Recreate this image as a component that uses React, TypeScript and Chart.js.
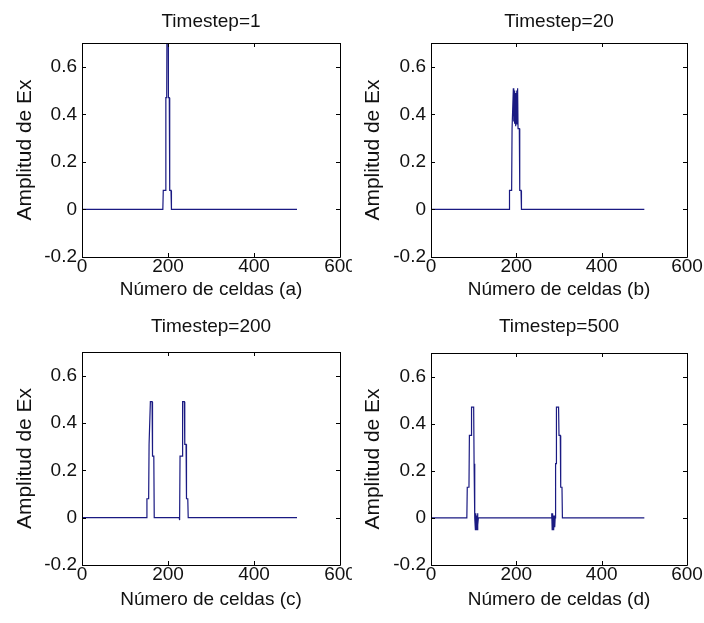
import React, { useEffect, useRef } from "react";
import { Chart, registerables } from "chart.js";
Chart.register(...registerables);

// ---- data ----
const xTicks = [0, 200, 400, 600];
const yTicks = [-0.2, 0, 0.2, 0.4, 0.6];
const yTickLabels = ["-0.2", "0", "0.2", "0.4", "0.6"];
const titles = ["Timestep=1", "Timestep=20", "Timestep=200", "Timestep=500"];
const xAxisTitles = [
  "Número de celdas (a)",
  "Número de celdas (b)",
  "Número de celdas (c)",
  "Número de celdas (d)",
];
const yAxisTitle = "Amplitud de Ex";

// Timestep = 1
const cellsA = [0, 188, 189, 194, 195, 197, 198, 200, 201, 203, 204, 207, 208, 500];
const ampA = [0, 0, 0.08, 0.08, 0.47, 0.47, 1.0, 1.0, 0.47, 0.47, 0.08, 0.08, 0, 0];

// Timestep = 20
const cellsB = [0, 183, 184, 189, 190, 192, 193, 194, 195, 196, 197, 198, 199, 200, 201, 202, 203, 204, 207, 208, 211, 212, 500];
const ampB = [0, 0, 0.08, 0.08, 0.34, 0.34, 0.51, 0.37, 0.5, 0.36, 0.49, 0.35, 0.49, 0.36, 0.5, 0.37, 0.51, 0.34, 0.34, 0.08, 0.08, 0, 0];

// Timestep = 200
const cellsC = [0, 150, 151, 155, 156, 158, 159, 163, 164, 167, 168, 226, 227, 228, 233, 234, 238, 239, 242, 243, 246, 247, 500];
const ampC = [0, 0, 0.08, 0.08, 0.31, 0.31, 0.49, 0.49, 0.26, 0.26, 0, 0, -0.01, 0.26, 0.26, 0.49, 0.49, 0.31, 0.31, 0.08, 0.08, 0, 0];

// Timestep = 500
const cellsD = [0, 84, 85, 89, 90, 94, 95, 100, 101, 102, 103, 104, 105, 106, 107, 108, 109, 110, 111, 282, 283, 284, 285, 286, 287, 288, 289, 290, 291, 292, 293, 294, 299, 300, 303, 304, 307, 308, 500];
const ampD = [0, 0, 0.13, 0.13, 0.35, 0.35, 0.47, 0.47, 0.23, 0.23, 0, -0.05, 0.02, -0.05, 0.01, -0.05, 0.02, -0.03, 0, 0, 0.02, -0.05, 0.02, -0.05, 0.01, -0.05, 0.01, -0.04, 0, 0.23, 0.23, 0.47, 0.47, 0.35, 0.35, 0.13, 0.13, 0, 0];

const seriesCells = [cellsA, cellsB, cellsC, cellsD];
const seriesAmp = [ampA, ampB, ampC, ampD];

// ---- layout (positions only) ----
const PANELS = [
  { x0: 0, y0: 0, w: 352, h: 311, L: 82, R: 340, T: 43, B: 257, titleY: 22, xTitleY: 290, yTitleX: 25 },
  { x0: 352, y0: 0, w: 352, h: 311, L: 431, R: 687, T: 43, B: 257, titleY: 22, xTitleY: 290, yTitleX: 373 },
  { x0: 0, y0: 311, w: 352, h: 312, L: 82, R: 340, T: 352, B: 565, titleY: 327, xTitleY: 600, yTitleX: 25 },
  { x0: 352, y0: 311, w: 352, h: 312, L: 431, R: 687, T: 353, B: 565, titleY: 327, xTitleY: 600, yTitleX: 373 },
];

const FONT = "'Liberation Sans', Arial, sans-serif";
const FS = 19;
const HALF = FS / 2;
const LINE_COLOR = "#1a1a82";

const boxPlugin = {
  id: "matlabBox",
  afterDraw(chart: any) {
    const { ctx, chartArea } = chart;
    const { left, right, top, bottom } = chartArea;
    const xs = chart.scales.x;
    const ys = chart.scales.y;
    ctx.save();
    ctx.strokeStyle = "#000";
    ctx.lineWidth = 1;
    ctx.beginPath();
    ctx.rect(Math.round(left) + 0.5, Math.round(top) + 0.5, Math.round(right - left), Math.round(bottom - top));
    const tl = 4;
    xTicks.forEach((v) => {
      const px = Math.round(xs.getPixelForValue(v)) + 0.5;
      ctx.moveTo(px, bottom);
      ctx.lineTo(px, bottom - tl);
      ctx.moveTo(px, top);
      ctx.lineTo(px, top + tl);
    });
    yTicks.forEach((v) => {
      const py = Math.round(ys.getPixelForValue(v)) + 0.5;
      ctx.moveTo(left, py);
      ctx.lineTo(left + tl, py);
      ctx.moveTo(right, py);
      ctx.lineTo(right - tl, py);
    });
    ctx.stroke();
    ctx.restore();
  },
};

function Panel({ idx }: { idx: number }) {
  const ref = useRef<HTMLCanvasElement>(null);
  const p = PANELS[idx];
  useEffect(() => {
    if (!ref.current) return;
    const cells = seriesCells[idx];
    const amp = seriesAmp[idx];
    const pts = cells.map((c, i) => ({ x: c, y: amp[i] }));
    const titlePadTop = p.titleY - p.y0 - HALF;
    const titlePadBottom = p.T - p.y0 - titlePadTop - FS;
    const chart = new Chart(ref.current, {
      type: "line",
      data: {
        datasets: [
          {
            data: pts,
            borderColor: LINE_COLOR,
            borderWidth: 1.2,
            pointRadius: 0,
            tension: 0,
            fill: false,
          },
        ],
      },
      plugins: [boxPlugin],
      options: {
        responsive: false,
        animation: false,
        events: [],
        layout: { padding: { left: 0, right: p.x0 + p.w - p.R, top: 0, bottom: 0 } },
        plugins: {
          legend: { display: false },
          tooltip: { enabled: false },
          title: {
            display: true,
            text: titles[idx],
            fullSize: false,
            color: "#111",
            font: { family: FONT, size: FS, lineHeight: 1, weight: "normal" },
            padding: { top: titlePadTop, bottom: titlePadBottom },
          },
        },
        scales: {
          x: {
            type: "linear",
            min: 0,
            max: 600,
            position: "bottom",
            grid: { display: false, drawTicks: false },
            border: { display: false },
            ticks: {
              color: "#111",
              font: { family: FONT, size: FS, lineHeight: 1 },
              padding: 10 - HALF,
              maxRotation: 0,
              autoSkip: false,
              callback: (v: any) => String(v),
            },
            afterBuildTicks: (s: any) => {
              s.ticks = xTicks.map((v) => ({ value: v }));
            },
            afterFit: (s: any) => {
              s.height = p.y0 + p.h - p.B;
              s.paddingLeft = 0;
              s.paddingRight = 0;
            },
            title: {
              display: true,
              text: xAxisTitles[idx],
              color: "#111",
              font: { family: FONT, size: FS, lineHeight: 1 },
              padding: { top: 0, bottom: p.y0 + p.h - p.xTitleY - HALF },
            },
          },
          y: {
            type: "linear",
            min: -0.2,
            max: 0.7,
            position: "left",
            grid: { display: false, drawTicks: false },
            border: { display: false },
            ticks: {
              color: "#111",
              font: { family: FONT, size: FS, lineHeight: 1 },
              padding: 5,
              autoSkip: false,
              callback: (_v: any, i: number) => yTickLabels[i],
            },
            afterBuildTicks: (s: any) => {
              s.ticks = yTicks.map((v) => ({ value: v }));
            },
            afterFit: (s: any) => {
              s.width = p.L - p.x0;
              s.paddingTop = 0;
              s.paddingBottom = 0;
            },
            title: {
              display: true,
              text: yAxisTitle,
              color: "#111",
              font: { family: FONT, size: 21, lineHeight: 1 },
              padding: { top: p.yTitleX - p.x0 - 10.5, bottom: 0 },
            },
          },
        },
      } as any,
    });
    return () => chart.destroy();
  }, []);
  return (
    <canvas
      ref={ref}
      width={p.w}
      height={p.h}
      style={{ position: "absolute", left: p.x0, top: p.y0, width: p.w, height: p.h }}
    />
  );
}

export default function App() {
  return (
    <div style={{ position: "absolute", left: 0, top: 0, width: 704, height: 623, background: "#fff" }}>
      {PANELS.map((_, i) => (
        <Panel key={i} idx={i} />
      ))}
    </div>
  );
}
